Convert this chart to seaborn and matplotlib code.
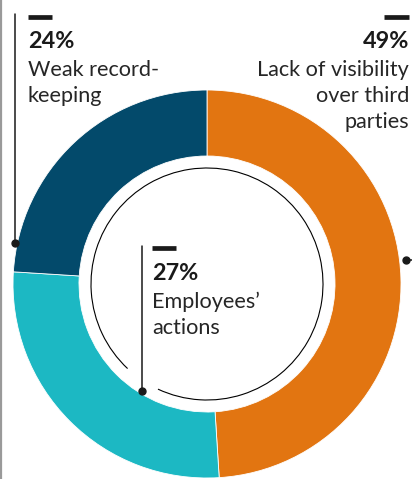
import matplotlib
matplotlib.use("Agg")
import matplotlib.pyplot as plt
from matplotlib.patches import Arc
import seaborn as sns

# Survey shares, clockwise from twelve o'clock
categories = ["Lack of visibility over third parties", "Employees’ actions", "Weak record-keeping"]
shares = [49, 27, 24]
label_lines = [["Lack of visibility", "over third", "parties"],
               ["Employees’", "actions"],
               ["Weak record-", "keeping"]]

sns.set_theme(style="white")
plt.rcParams["font.family"] = ["Lato", "DejaVu Sans"]

palette = sns.color_palette(["#E27511", "#1CB8C3", "#034A6B"])

W, H = 412, 479
fig = plt.figure(figsize=(W / 100, H / 100), dpi=100)
ax = fig.add_axes([0, 0, 1, 1])


def py(y):
    """Convert a top-down pixel row into the axes' y coordinate."""
    return H - y


cx, cy = 207, py(284)
r_out, ring = 194, 66

ax.pie(shares, colors=palette, startangle=90, counterclock=False,
       center=(cx, cy), radius=r_out,
       wedgeprops=dict(width=ring, linewidth=0.6, edgecolor="white"))

# thin inner circle, interrupted where the middle callout passes
ax.add_patch(Arc((cx, cy), 2 * 116, 2 * 116, theta1=245, theta2=586.8,
                 color="black", lw=0.8))

ink = "#1a1a1a"
lw_lead = 1.1
LINE_STEP = 26


def callout(x, y_num, value, lines, ha):
    ax.text(x, py(y_num), f"{value}%", ha=ha, va="baseline",
            fontsize=16.8, fontweight="bold", color=ink)
    for i, line in enumerate(lines):
        ax.text(x, py(y_num + 28 + i * LINE_STEP), line, ha=ha, va="baseline",
                fontsize=15.6, fontweight="normal", color="#262626")


# left-hand rule
ax.plot([1, 1], [py(0), py(479)], color="#9a9a9a", lw=1.6, solid_capstyle="butt")

# callout: weak record-keeping
ax.plot([15, 15], [py(14), py(243)], color=ink, lw=lw_lead)
ax.plot([15], [py(243)], "o", color=ink, ms=5)
ax.plot([28, 52], [py(16.5), py(16.5)], color=ink, lw=3.4, solid_capstyle="butt")
callout(28, 48, shares[2], label_lines[2], "left")

# callout: lack of visibility over third parties
ax.plot([384, 409], [py(16.5), py(16.5)], color=ink, lw=3.4, solid_capstyle="butt")
callout(409, 48, shares[0], label_lines[0], "right")
ax.plot([406, 414], [py(260), py(260)], color=ink, lw=lw_lead)
ax.plot([406], [py(260)], "o", color=ink, ms=5)

# callout: employees' actions
ax.plot([142.5, 142.5], [py(246), py(391)], color=ink, lw=lw_lead)
ax.plot([142.5], [py(391)], "o", color=ink, ms=5)
ax.plot([152, 176], [py(248), py(248)], color=ink, lw=3.4, solid_capstyle="butt")
callout(152, 280, shares[1], label_lines[1], "left")

ax.set_xlim(0, W)
ax.set_ylim(0, H)
ax.set_aspect("equal")
ax.axis("off")

fig.savefig("out.png", dpi=100, facecolor="white")
